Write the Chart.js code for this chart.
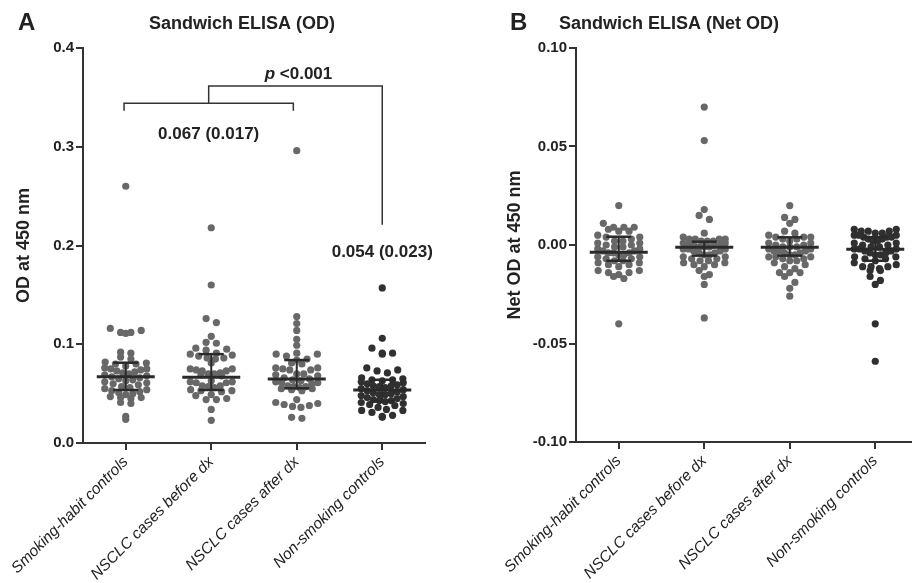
<!DOCTYPE html>
<html>
<head>
<meta charset="utf-8">
<script src="https://cdn.jsdelivr.net/npm/chart.js@4.4.1/dist/chart.umd.min.js"></script>
<style>
  html, body { margin: 0; padding: 0; background: #fff; width: 912px; height: 583px; overflow: hidden; }
  canvas { position: absolute; top: 0; display: block; }
  #odChart { left: 0; }
  #netChart { left: 456px; }
</style>
</head>
<body>
<canvas id="odChart" width="456" height="583"></canvas>
<canvas id="netChart" width="470" height="583"></canvas>
<script>
// Study groups (x axis categories)
const groups = ['Smoking-habit controls', 'NSCLC cases before dx', 'NSCLC cases after dx', 'Non-smoking controls'];

// Panel A: sandwich ELISA optical density at 450 nm
const odSmokingControls = [0.260, 0.116, 0.112, 0.111, 0.112, 0.114, 0.092, 0.091, 0.087, 0.085, 0.082, 0.081, 0.080, 0.080, 0.078, 0.076, 0.075, 0.075, 0.074, 0.073, 0.072, 0.071, 0.070, 0.069, 0.068, 0.067, 0.066, 0.065, 0.064, 0.063, 0.062, 0.061, 0.060, 0.059, 0.057, 0.056, 0.055, 0.054, 0.053, 0.052, 0.051, 0.050, 0.049, 0.047, 0.046, 0.046, 0.045, 0.041, 0.040, 0.027, 0.024];
const odCasesBefore = [0.218, 0.160, 0.126, 0.122, 0.108, 0.102, 0.101, 0.096, 0.095, 0.094, 0.091, 0.090, 0.089, 0.088, 0.086, 0.086, 0.085, 0.081, 0.075, 0.075, 0.074, 0.073, 0.073, 0.071, 0.070, 0.070, 0.069, 0.068, 0.063, 0.062, 0.062, 0.061, 0.061, 0.058, 0.058, 0.057, 0.056, 0.054, 0.053, 0.053, 0.052, 0.049, 0.048, 0.045, 0.044, 0.044, 0.034, 0.023];
const odCasesAfter = [0.296, 0.128, 0.121, 0.114, 0.105, 0.099, 0.091, 0.090, 0.090, 0.088, 0.085, 0.084, 0.081, 0.080, 0.076, 0.076, 0.075, 0.074, 0.074, 0.070, 0.070, 0.069, 0.068, 0.066, 0.065, 0.064, 0.063, 0.062, 0.061, 0.061, 0.060, 0.058, 0.057, 0.057, 0.056, 0.055, 0.055, 0.054, 0.053, 0.044, 0.041, 0.040, 0.039, 0.038, 0.037, 0.036, 0.026, 0.025];
const odNonSmokers = [0.157, 0.106, 0.096, 0.091, 0.091, 0.090, 0.076, 0.074, 0.073, 0.071, 0.066, 0.065, 0.064, 0.064, 0.063, 0.062, 0.061, 0.060, 0.059, 0.058, 0.058, 0.057, 0.056, 0.055, 0.054, 0.053, 0.052, 0.051, 0.050, 0.049, 0.049, 0.048, 0.047, 0.046, 0.045, 0.044, 0.043, 0.043, 0.042, 0.041, 0.040, 0.039, 0.038, 0.036, 0.034, 0.033, 0.033, 0.031, 0.028, 0.027, 0.026];
const odMedian = [0.067, 0.0665, 0.0648, 0.0537];
const odQ1 = [0.0537, 0.0537, 0.0554, 0.042];
const odQ3 = [0.0813, 0.0900, 0.0840, 0.064];
const odTicks = [0, 0.1, 0.2, 0.3, 0.4];

// Panel B: net optical density
const netSmokingControls = [0.020, 0.011, 0.009, 0.009, 0.009, 0.008, 0.007, 0.007, 0.005, 0.004, 0.004, 0.003, 0.002, 0.002, 0.001, 0.001, 0.000, 0.000, -0.001, -0.001, -0.002, -0.002, -0.003, -0.003, -0.004, -0.004, -0.004, -0.005, -0.005, -0.006, -0.006, -0.007, -0.007, -0.008, -0.008, -0.009, -0.009, -0.010, -0.010, -0.011, -0.013, -0.013, -0.014, -0.014, -0.015, -0.016, -0.017, -0.040];
const netCasesBefore = [0.070, 0.053, 0.018, 0.015, 0.013, 0.006, 0.004, 0.003, 0.003, 0.003, 0.003, 0.002, 0.002, 0.002, 0.001, 0.001, 0.001, 0.000, 0.000, 0.000, -0.001, -0.001, -0.001, -0.002, -0.002, -0.002, -0.003, -0.003, -0.004, -0.004, -0.005, -0.005, -0.006, -0.006, -0.007, -0.007, -0.008, -0.008, -0.009, -0.009, -0.010, -0.010, -0.011, -0.013, -0.015, -0.016, -0.020, -0.037];
const netCasesAfter = [0.020, 0.014, 0.013, 0.011, 0.007, 0.006, 0.005, 0.004, 0.004, 0.004, 0.003, 0.003, 0.002, 0.001, 0.001, 0.000, 0.000, -0.001, -0.001, -0.001, -0.002, -0.002, -0.003, -0.003, -0.003, -0.004, -0.004, -0.005, -0.005, -0.006, -0.006, -0.006, -0.007, -0.007, -0.008, -0.008, -0.009, -0.010, -0.011, -0.012, -0.014, -0.014, -0.014, -0.016, -0.019, -0.022, -0.026];
const netNonSmokers = [0.008, 0.008, 0.007, 0.007, 0.007, 0.006, 0.006, 0.005, 0.005, 0.005, 0.004, 0.004, 0.004, 0.003, 0.003, 0.002, 0.002, 0.001, 0.001, 0.000, 0.000, -0.001, -0.001, -0.002, -0.002, -0.002, -0.003, -0.003, -0.004, -0.004, -0.005, -0.005, -0.006, -0.006, -0.007, -0.007, -0.008, -0.009, -0.010, -0.011, -0.011, -0.011, -0.012, -0.013, -0.013, -0.016, -0.018, -0.020, -0.040, -0.059];
const netMedian = [-0.0037, -0.0012, -0.0012, -0.0022];
const netQ1 = [-0.0080, -0.0054, -0.0054, -0.0080];
const netQ3 = [0.0042, 0.0017, 0.0039, 0.0040];
const netTicks = [-0.10, -0.05, 0, 0.05, 0.10];

const FONT = '"Liberation Sans", Arial, sans-serif';
const INK = '#222222';
const AXIS = '#333333';
const DOT_GREY = '#686868';
const DOT_DARK = '#303030';

// Lay points of one group out in rows, GraphPad-style: values falling in the
// same horizontal band share a row and are spread symmetrically about the centre.
function swarm(values, center, xs, ys) {
  const rowH = 7, gap = 10.3, maxHalf = 21;
  const cx = xs.getPixelForValue(center);
  const bins = new Map();
  values.forEach((v, i) => {
    const py = ys.getPixelForValue(v);
    const b = Math.round(py / rowH);
    if (!bins.has(b)) bins.set(b, []);
    bins.get(b).push({ i, py });
  });
  const xOut = new Array(values.length);
  bins.forEach(list => {
    list.sort((a, b) => a.py - b.py);
    const n = list.length;
    const step = n > 1 ? Math.min(gap, 2 * maxHalf / (n - 1)) : 0;
    // alternate sides so neighbouring values are not stacked diagonally
    const slots = list.map((_, k) => (k - (n - 1) / 2) * step);
    const order = [];
    let lo = 0, hi = n - 1;
    while (lo <= hi) { order.push(lo++); if (lo <= hi) order.push(hi--); }
    list.forEach((it, k) => { xOut[it.i] = xs.getValueForPixel(cx + slots[order[k]]); });
  });
  return values.map((v, i) => ({ x: xOut[i], y: v }));
}

function whiskerData(q1, q3) {
  const out = [];
  q1.forEach((lo, i) => { out.push({ x: i, y: lo }, { x: i, y: q3[i] }, { x: i, y: null }); });
  return out;
}

function axisCommon() {
  return {
    grid: { drawOnChartArea: false, drawTicks: true, tickLength: 7, color: AXIS, lineWidth: 2 },
    border: { display: true, color: AXIS, width: 2 }
  };
}

function buildChart(canvasId, cfg) {
  const dotSets = cfg.series.map((vals, i) => ({
    type: 'scatter',
    data: vals.map(v => ({ x: i, y: v })),
    pointRadius: 3.6,
    pointHoverRadius: 3.6,
    pointBorderWidth: 0,
    pointBackgroundColor: i === 3 ? DOT_DARK : DOT_GREY,
    pointBorderColor: i === 3 ? DOT_DARK : DOT_GREY,
    order: 3
  }));
  const whiskers = {
    type: 'scatter',
    data: whiskerData(cfg.q1, cfg.q3),
    showLine: true,
    spanGaps: false,
    borderColor: '#2a2a2a',
    borderWidth: 2,
    pointStyle: 'line',
    pointRadius: 12.5,
    pointHoverRadius: 12.5,
    pointBorderColor: '#2a2a2a',
    pointBorderWidth: 2.5,
    order: 1
  };
  const medians = {
    type: 'scatter',
    data: cfg.median.map((m, i) => ({ x: i, y: m })),
    pointStyle: 'line',
    pointRadius: 29,
    pointHoverRadius: 29,
    pointBorderColor: '#2a2a2a',
    pointBorderWidth: 3,
    order: 0
  };

  const chart = new Chart(document.getElementById(canvasId), {
    type: 'scatter',
    data: { datasets: [...dotSets, whiskers, medians] },
    options: {
      responsive: false,
      animation: false,
      events: [],
      devicePixelRatio: 1,
      layout: { padding: cfg.padding, autoPadding: false },
      plugins: { legend: { display: false }, tooltip: { enabled: false }, title: { display: false } },
      scales: {
        x: {
          type: 'linear', min: -0.5, max: 3.5,
          afterBuildTicks: s => { s.ticks = groups.map((_, i) => ({ value: i })); },
          afterFit: s => { s.height = cfg.xHeight; s.paddingLeft = 0; s.paddingRight = 0; },
          ticks: {
            autoSkip: false, minRotation: 45, maxRotation: 45, padding: 3,
            color: INK, font: { family: FONT, size: 15.5, style: 'italic' },
            callback: v => groups[Math.round(v)]
          },
          ...axisCommon()
        },
        y: {
          min: cfg.yMin, max: cfg.yMax,
          afterBuildTicks: s => { s.ticks = cfg.yTicks.map(v => ({ value: v })); },
          afterFit: s => { s.width = 83; s.paddingTop = 0; s.paddingBottom = 0; },
          ticks: {
            padding: 2, color: INK, font: { family: FONT, size: 15, weight: 'bold' },
            callback: v => v.toFixed(cfg.decimals)
          },
          title: {
            display: true, text: cfg.yTitle, color: INK,
            font: { family: FONT, size: 18, weight: 'bold' },
            padding: { top: cfg.titlePad, bottom: 0 }
          },
          ...axisCommon()
        }
      }
    },
    plugins: [cfg.annotations]
  });

  // place the dots once the scales exist
  const xs = chart.scales.x, ys = chart.scales.y;
  cfg.series.forEach((vals, i) => { chart.data.datasets[i].data = swarm(vals, i, xs, ys); });
  chart.update('none');
  return chart;
}

function drawHeading(ctx, letter, letterX, title, titleX) {
  ctx.fillStyle = INK;
  ctx.textBaseline = 'alphabetic';
  ctx.textAlign = 'left';
  ctx.font = 'bold 24px ' + FONT;
  ctx.fillText(letter, letterX, 30);
  ctx.textAlign = 'center';
  ctx.font = 'bold 18px ' + FONT;
  ctx.fillText(title, titleX, 28.5);
}

const odNotes = {
  id: 'odNotes',
  afterDraw(chart) {
    const { ctx, scales: { x, y } } = chart;
    ctx.save();
    drawHeading(ctx, 'A', 18, 'Sandwich ELISA (OD)', 242);

    // comparison brackets: smoking groups pooled vs non-smoking controls
    const X = v => x.getPixelForValue(v), Y = v => y.getPixelForValue(v);
    ctx.strokeStyle = AXIS;
    ctx.lineWidth = 1.5;
    ctx.beginPath();
    ctx.moveTo(X(-0.02), Y(0.3365)); ctx.lineTo(X(-0.02), Y(0.344));
    ctx.lineTo(X(1.96), Y(0.344)); ctx.lineTo(X(1.96), Y(0.3365));
    ctx.moveTo(X(0.97), Y(0.344)); ctx.lineTo(X(0.97), Y(0.3615));
    ctx.lineTo(X(3), Y(0.3615)); ctx.lineTo(X(3), Y(0.221));
    ctx.stroke();

    // p value label, italic p
    ctx.fillStyle = INK;
    ctx.textBaseline = 'alphabetic';
    ctx.textAlign = 'left';
    const pFont = 'italic bold 17px ' + FONT, restFont = 'bold 17px ' + FONT;
    ctx.font = pFont; const wP = ctx.measureText('p').width;
    ctx.font = restFont; const wR = ctx.measureText(' <0.001').width;
    const startX = X(2.02) - (wP + wR) / 2;
    ctx.font = pFont; ctx.fillText('p', startX, Y(0.3686));
    ctx.font = restFont; ctx.fillText(' <0.001', startX + wP, Y(0.3686));

    ctx.textAlign = 'center';
    ctx.fillText('0.067 (0.017)', X(0.97), Y(0.308));
    ctx.fillText('0.054 (0.023)', X(3), Y(0.1887));
    ctx.restore();
  }
};

const netNotes = {
  id: 'netNotes',
  afterDraw(chart) {
    const { ctx } = chart;
    ctx.save();
    drawHeading(ctx, 'B', 54, 'Sandwich ELISA (Net OD)', 213);
    ctx.restore();
  }
};

buildChart('odChart', {
  series: [odSmokingControls, odCasesBefore, odCasesAfter, odNonSmokers],
  median: odMedian, q1: odQ1, q3: odQ3,
  yMin: 0, yMax: 0.4, yTicks: odTicks, decimals: 1,
  yTitle: 'OD at 450 nm', titlePad: 13,
  padding: { top: 48, left: 0, right: 31, bottom: 0 },
  xHeight: 140,
  annotations: odNotes
});

buildChart('netChart', {
  series: [netSmokingControls, netCasesBefore, netCasesAfter, netNonSmokers],
  median: netMedian, q1: netQ1, q3: netQ3,
  yMin: -0.10, yMax: 0.10, yTicks: netTicks, decimals: 2,
  yTitle: 'Net OD at 450 nm', titlePad: 11,
  padding: { top: 48, left: 37, right: 8, bottom: 0 },
  xHeight: 141,
  annotations: netNotes
});
</script>
</body>
</html>
